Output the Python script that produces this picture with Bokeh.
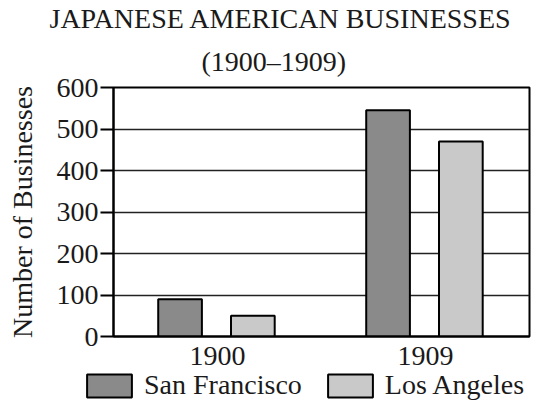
from bokeh.plotting import figure
from bokeh.layouts import column
from bokeh.models import Range1d, FactorRange, Legend, LegendItem, Title, ColumnDataSource, FixedTicker
from bokeh.transform import dodge
from bokeh.embed import file_html
from bokeh.resources import INLINE

years = ["1900", "1909"]
san_francisco = [90, 545]
los_angeles = [50, 470]
y_ticks = [0, 100, 200, 300, 400, 500, 600]
series_names = ["San Francisco", "Los Angeles"]
series_colors = ["#8a8a8a", "#c9c9c9"]
title_line1 = "JAPANESE AMERICAN BUSINESSES"
title_line2 = "(1900\u20131909)"
y_label = "Number of Businesses"

FONT = "Liberation Serif"
FS = "28px"
INK = "#1a1a1a"

source = ColumnDataSource(dict(year=years, sf=san_francisco, la=los_angeles))

p = figure(x_range=FactorRange(factors=years), y_range=Range1d(0, 600),
           width=532, height=370, output_backend="svg", toolbar_location=None,
           min_border_left=113, min_border_right=3, min_border_top=86, min_border_bottom=34,
           background_fill_color="white", border_fill_color="white")
p.frame_align = False

r1 = p.vbar(x=dodge("year", -0.18, range=p.x_range), top="sf", width=0.21, source=source,
            fill_color=series_colors[0], line_color="black", line_width=2)
r2 = p.vbar(x=dodge("year", 0.17, range=p.x_range), top="la", width=0.21, source=source,
            fill_color=series_colors[1], line_color="black", line_width=2)

# titles
p.title.text = title_line1
p.title.align = "left"
p.title.offset = -64
p.title.text_font = FONT
p.title.text_font_size = FS
p.title.text_font_style = "normal"
p.title.text_color = INK
p.title.standoff = 0
t2 = Title(text=title_line2, align="left", offset=88, text_font=FONT, text_font_size=FS,
           text_font_style="normal", text_color=INK, standoff=21)
p.add_layout(t2, "above")

# axes
p.yaxis.ticker = FixedTicker(ticks=y_ticks)
p.yaxis.axis_label = y_label
p.yaxis.axis_label_text_font = FONT
p.yaxis.axis_label_text_font_size = FS
p.yaxis.axis_label_text_font_style = "normal"
p.yaxis.axis_label_text_color = INK
p.yaxis.axis_label_standoff = 16
p.yaxis.major_label_text_font = FONT
p.yaxis.major_label_text_font_size = FS
p.yaxis.major_label_text_color = INK
p.yaxis.major_label_standoff = 2
p.yaxis.major_tick_out = 13
p.yaxis.major_tick_in = 0
p.yaxis.minor_tick_line_color = None
p.yaxis.major_tick_line_color = "black"
p.yaxis.major_tick_line_width = 2
p.yaxis.axis_line_color = "black"
p.yaxis.axis_line_width = 2

p.xaxis.major_label_text_font = FONT
p.xaxis.major_label_text_font_size = FS
p.xaxis.major_label_text_color = INK
p.xaxis.major_label_standoff = 4
p.xaxis.major_tick_line_color = None
p.xaxis.minor_tick_line_color = None
p.xaxis.axis_line_color = "black"
p.xaxis.axis_line_width = 2

p.xgrid.visible = False
p.ygrid.grid_line_color = "#222222"
p.ygrid.grid_line_width = 1.6
p.outline_line_color = "black"
p.outline_line_width = 2
p.outline_line_alpha = 1

# legend strip (separate small figure; its bar renderers are hidden, only the legend shows)
q = figure(width=532, height=31, output_backend="svg", toolbar_location=None,
           x_range=p.x_range, y_range=Range1d(1000, 1001),
           x_axis_type=None, y_axis_type=None,
           min_border_left=0, min_border_right=0, min_border_top=0, min_border_bottom=0,
           background_fill_color="white", border_fill_color="white", outline_line_color=None)
q.frame_align = False
q.xgrid.visible = False
q.ygrid.visible = False
l1 = q.vbar(x=dodge("year", -0.18, range=q.x_range), top="sf", width=0.21, source=source,
            fill_color=series_colors[0], line_color="black", line_width=2, visible=False)
l2 = q.vbar(x=dodge("year", 0.17, range=q.x_range), top="la", width=0.21, source=source,
            fill_color=series_colors[1], line_color="black", line_width=2, visible=False)
legend = Legend(items=[LegendItem(label=series_names[0], renderers=[l1]),
                       LegendItem(label=series_names[1], renderers=[l2])],
                orientation="horizontal", location=(81, 0), click_policy="none",
                glyph_width=56, glyph_height=29, label_standoff=7, spacing=20,
                padding=0, margin=0, border_line_color=None, background_fill_alpha=0,
                label_text_font=FONT, label_text_font_size=FS, label_text_color=INK)
q.add_layout(legend, "center")

layout = column(p, q, spacing=0)
open("out.html", "w").write(file_html(layout, INLINE))
